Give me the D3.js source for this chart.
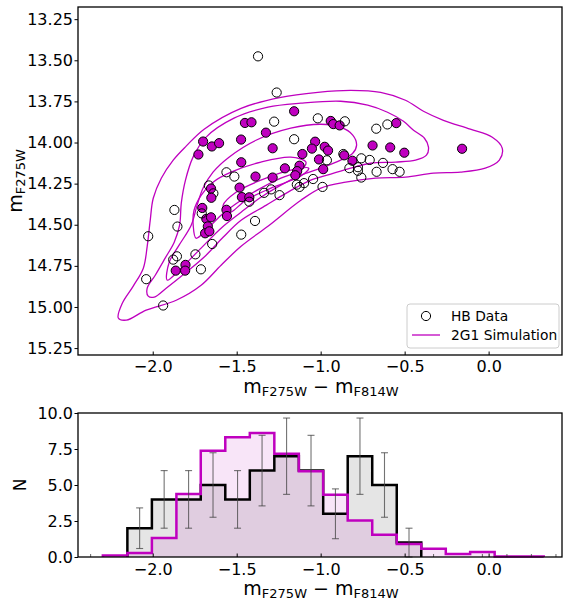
<!DOCTYPE html>
<html>
<head>
<meta charset="utf-8">
<script src="https://cdn.jsdelivr.net/npm/d3@7"></script>
<style>
  body { margin: 0; background: #fff; }
  text { font-family: "DejaVu Sans", sans-serif; fill: #000; }
</style>
</head>
<body>
<svg id="fig" width="566" height="603"></svg>
<script>
// ---- Horizontal-branch photometry: colour, magnitude, matched flag ----
const hbColor = [-1.373,-1.262,-1.158,-1.277,-1.451,-1.412,-1.017,-0.940,-0.925,-0.887,-0.856,-1.326,-1.158,-1.700,-1.648,-1.605,-1.728,-1.474,-1.286,-1.033,-1.052,-0.976,-0.956,-1.109,-1.010,-0.963,-0.865,-0.860,-0.811,-0.758,-0.708,-0.691,-0.586,-0.502,-0.158,-0.550,-0.603,-0.669,-0.629,-0.829,-0.778,-0.778,-0.758,-0.667,-0.572,-0.530,-1.045,-0.989,-1.473,-0.985,-1.126,-1.140,-1.151,-1.213,-1.561,-1.514,-1.388,-1.286,-1.666,-1.653,-1.483,-1.639,-1.651,-1.469,-1.425,-1.425,-1.337,-1.295,-1.245,-1.142,-1.099,-1.126,-1.705,-1.561,-1.558,-1.681,-1.653,-1.708,-1.672,-1.688,-1.663,-1.391,-1.871,-1.853,-2.027,-1.646,-1.473,-1.746,-1.878,-1.856,-1.805,-1.863,-1.807,-1.713,-2.039,-1.938];
const hbMag = [13.476,13.696,13.810,13.873,13.881,13.877,13.853,13.869,13.888,13.896,13.871,13.940,13.980,13.994,14.024,14.004,14.073,13.982,14.035,13.995,14.037,14.026,14.049,14.070,14.103,14.108,14.070,14.078,14.111,14.096,14.106,14.018,14.030,14.062,14.038,13.882,13.890,13.916,14.124,14.156,14.150,14.172,14.213,14.178,14.162,14.178,14.222,14.270,14.120,14.162,14.141,14.174,14.199,14.157,14.181,14.207,14.207,14.213,14.261,14.280,14.274,14.309,14.336,14.332,14.333,14.360,14.306,14.285,14.320,14.256,14.247,14.270,14.398,14.409,14.447,14.464,14.455,14.431,14.510,14.552,14.540,14.477,14.410,14.511,14.570,14.617,14.560,14.680,14.712,14.692,14.744,14.779,14.779,14.771,14.831,14.991];
const hbMatched = [0,0,1,0,1,1,0,1,1,1,0,1,0,1,1,1,1,1,1,1,1,1,1,1,1,0,0,1,1,0,0,1,1,1,1,1,0,0,0,0,0,0,0,0,0,0,0,0,1,1,1,1,1,1,0,0,1,1,0,1,1,0,1,1,1,0,0,0,0,0,0,0,1,1,1,1,1,0,1,1,1,0,0,0,0,0,0,0,0,0,1,1,1,0,0,0];

// ---- 2G1 simulation density contours (colour, magnitude) ----
const simContour1 = [[-2.205,15.067],[-2.181,14.977],[-2.116,14.873],[-2.056,14.764],[-2.033,14.631],[-2.015,14.473],[-1.997,14.339],[-1.949,14.217],[-1.878,14.107],[-1.801,14.022],[-1.694,13.919],[-1.474,13.792],[-1.237,13.725],[-1.017,13.695],[-0.821,13.683],[-0.643,13.695],[-0.495,13.743],[-0.388,13.810],[-0.269,13.865],[-0.109,13.919],[0.022,13.968],[0.081,14.034],[0.064,14.107],[-0.020,14.156],[-0.168,14.180],[-0.328,14.186],[-0.495,14.210],[-0.673,14.217],[-0.851,14.241],[-0.999,14.277],[-1.118,14.351],[-1.314,14.509],[-1.474,14.631],[-1.593,14.746],[-1.712,14.868],[-1.860,14.959],[-2.039,15.019],[-2.157,15.080]];
const simContour2 = [[-2.027,14.934],[-2.033,14.886],[-1.985,14.807],[-1.926,14.703],[-1.872,14.606],[-1.840,14.503],[-1.830,14.369],[-1.805,14.229],[-1.760,14.089],[-1.682,13.967],[-1.516,13.852],[-1.314,13.785],[-1.118,13.761],[-0.881,13.749],[-0.720,13.773],[-0.602,13.816],[-0.507,13.871],[-0.447,13.925],[-0.382,13.974],[-0.358,14.028],[-0.370,14.077],[-0.435,14.107],[-0.554,14.119],[-0.702,14.126],[-0.821,14.156],[-0.940,14.192],[-1.059,14.229],[-1.207,14.309],[-1.326,14.382],[-1.474,14.473],[-1.581,14.576],[-1.682,14.685],[-1.801,14.789],[-1.920,14.886],[-1.991,14.940]];
const simContour3 = [[-1.914,14.837],[-1.902,14.728],[-1.843,14.624],[-1.771,14.503],[-1.736,14.382],[-1.700,14.277],[-1.641,14.180],[-1.546,14.089],[-1.385,13.986],[-1.178,13.913],[-0.999,13.889],[-0.881,13.907],[-0.809,13.955],[-0.786,14.016],[-0.809,14.065],[-0.881,14.107],[-0.999,14.156],[-1.118,14.198],[-1.237,14.259],[-1.356,14.333],[-1.474,14.424],[-1.593,14.521],[-1.712,14.642],[-1.831,14.764]];
const simContour4 = [[-1.742,14.582],[-1.759,14.503],[-1.754,14.412],[-1.712,14.321],[-1.641,14.241],[-1.534,14.180],[-1.356,14.119],[-1.178,14.089],[-1.088,14.119],[-1.118,14.168],[-1.237,14.217],[-1.356,14.277],[-1.474,14.351],[-1.593,14.442],[-1.682,14.533]];
const simContour5 = [[-1.564,14.430],[-1.581,14.382],[-1.504,14.302],[-1.356,14.229],[-1.178,14.168],[-1.071,14.156],[-1.118,14.204],[-1.296,14.277],[-1.445,14.351],[-1.534,14.424]];
const simContours = [simContour1, simContour2, simContour3, simContour4, simContour5];

// ---- Colour histograms ----
const binEdges = [-2.297,-2.151,-2.005,-1.859,-1.714,-1.568,-1.422,-1.276,-1.130,-0.985,-0.839,-0.693,-0.547,-0.401,-0.255,-0.110,0.036,0.182,0.328];
const dataCounts = [2,4,4,5,4,6,7,6,3,7,5,1];           // bins 1..12
const dataErrors = [1.41,2.00,2.00,2.24,2.00,2.45,2.65,2.45,1.73,2.65,2.24,1.00];
const emptyBinCentres = [-2.370,-0.328,-0.037,0.109,0.255,0.401]; // empty data bins with zero-length error bars
const simCounts = [0.10,0.28,1.32,4.37,7.38,8.31,8.61,7.17,5.95,4.33,2.54,1.55,0.90,0.58,0.21,0.35,0.04,0.04]; // bins 0..17

const colorTicks = [-2.0,-1.5,-1.0,-0.5,0.0];
const magTicks = [13.25,13.50,13.75,14.00,14.25,14.50,14.75,15.00,15.25];
const countTicks = [0,2.5,5,7.5,10];

const MAGENTA = "#bf00bf";
const svg = d3.select("#fig");

const L = 78, R = 562;
const topPanel = {t: 7, b: 355};
const botPanel = {t: 413, b: 557};

const x = d3.scaleLinear().domain([-2.445, 0.437]).range([L, R]);
const yMag = d3.scaleLinear().domain([13.176, 15.292]).range([topPanel.t, topPanel.b]);
const yN = d3.scaleLinear().domain([0, 10]).range([botPanel.b, botPanel.t]);

function subLabel(g, main, sub, main2, sub2) {
  const t = g.append("text");
  t.append("tspan").text(main).attr("font-size", 19);
  t.append("tspan").text(sub).attr("font-size", 13).attr("dy", 3);
  if (main2) {
    t.append("tspan").text(main2).attr("font-size", 19).attr("dy", -3);
    t.append("tspan").text(sub2).attr("font-size", 13).attr("dy", 3);
  }
  return t;
}

function styleAxis(g) {
  g.select(".domain").remove();
  g.selectAll(".tick line").attr("stroke", "#000").attr("stroke-width", 1);
  g.selectAll(".tick text").attr("font-size", 16).attr("font-family", "DejaVu Sans");
}

// ================= Top panel: colour-magnitude diagram =================
const cmdPanel = svg.append("g");
svg.append("clipPath").attr("id", "clipCmd")
  .append("rect").attr("x", L).attr("y", topPanel.t).attr("width", R - L).attr("height", topPanel.b - topPanel.t);

const cmd = cmdPanel.append("g").attr("clip-path", "url(#clipCmd)");
const contourLine = d3.line().x(d => x(d[0])).y(d => yMag(d[1])).curve(d3.curveCatmullRomClosed.alpha(0.5));
cmd.selectAll("path.contour").data(simContours).join("path")
  .attr("class", "contour")
  .attr("d", contourLine)
  .attr("fill", "none").attr("stroke", MAGENTA).attr("stroke-width", 1.3);

const hb = hbColor.map((c, i) => ({c, m: hbMag[i], k: hbMatched[i]}));
cmd.selectAll("circle.hb").data(hb).join("circle")
  .attr("class", "hb")
  .attr("cx", d => x(d.c)).attr("cy", d => yMag(d.m)).attr("r", 4.6)
  .attr("fill", d => d.k ? MAGENTA : "none")
  .attr("stroke", "#000").attr("stroke-width", 1);

// axes
const yAxTop = cmdPanel.append("g").attr("transform", `translate(${L},0)`)
  .call(d3.axisLeft(yMag).tickValues(magTicks).tickFormat(d3.format(".2f")).tickSize(3.5).tickPadding(1.5));
styleAxis(yAxTop);
const xAxTop = cmdPanel.append("g").attr("transform", `translate(0,${topPanel.b})`)
  .call(d3.axisBottom(x).tickValues(colorTicks).tickFormat(d3.format(".1f")).tickSize(-3.5));
styleAxis(xAxTop);
xAxTop.selectAll(".tick text").attr("dy", 0).attr("y", 17);

cmdPanel.append("rect").attr("x", L).attr("y", topPanel.t).attr("width", R - L).attr("height", topPanel.b - topPanel.t)
  .attr("fill", "none").attr("stroke", "#000").attr("stroke-width", 1.3);

subLabel(cmdPanel.append("g").attr("transform", `translate(321,393)`), "m", "F275W", " − m", "F814W").attr("text-anchor", "middle");
subLabel(cmdPanel.append("g").attr("transform", `translate(22,181) rotate(-90)`), "m", "F275W").attr("text-anchor", "middle");

// legend
const leg = cmdPanel.append("g");
leg.append("rect").attr("x", 407).attr("y", 304).attr("width", 152).attr("height", 44).attr("rx", 3)
  .attr("fill", "#fff").attr("fill-opacity", 0.8).attr("stroke", "#ccc").attr("stroke-width", 1);
leg.append("circle").attr("cx", 426).attr("cy", 316).attr("r", 4.6).attr("fill", "none").attr("stroke", "#000");
leg.append("text").attr("x", 451).attr("y", 321).attr("font-size", 13.8).text("HB Data");
leg.append("line").attr("x1", 412).attr("x2", 440).attr("y1", 335).attr("y2", 335).attr("stroke", MAGENTA).attr("stroke-width", 1.3);
leg.append("text").attr("x", 451).attr("y", 340).attr("font-size", 13.8).text("2G1 Simulation");

// ================= Bottom panel: colour histograms =================
const histPanel = svg.append("g");

function stepPoints(edges, counts) {
  const pts = [[edges[0], 0]];
  counts.forEach((n, i) => { pts.push([edges[i], n]); pts.push([edges[i + 1], n]); });
  pts.push([edges[counts.length], 0]);
  return pts;
}
const stepLine = d3.line().x(d => x(d[0])).y(d => yN(d[1]));

const dataEdges = binEdges.slice(1, 1 + dataCounts.length + 1);
const simEdges = binEdges.slice(0, simCounts.length + 1);
const dataStep = stepPoints(dataEdges, dataCounts);
const simStep = stepPoints(simEdges, simCounts);

histPanel.append("path").attr("d", stepLine(dataStep) + "Z").attr("fill", "#000").attr("fill-opacity", 0.1).attr("stroke", "none");
histPanel.append("path").attr("d", stepLine(simStep) + "Z").attr("fill", MAGENTA).attr("fill-opacity", 0.1).attr("stroke", "none");
histPanel.append("path").attr("d", stepLine(dataStep)).attr("fill", "none").attr("stroke", "#000").attr("stroke-width", 2.5);
histPanel.append("path").attr("d", stepLine(simStep)).attr("fill", "none").attr("stroke", MAGENTA).attr("stroke-width", 2.5);

// Poisson error bars at data bin centres
const errs = dataCounts.map((n, i) => ({c: (dataEdges[i] + dataEdges[i + 1]) / 2, n, e: dataErrors[i]}));
const eb = histPanel.append("g").attr("stroke", "#444").attr("stroke-opacity", 0.75).attr("stroke-width", 1.1);
errs.forEach(d => {
  eb.append("line").attr("x1", x(d.c)).attr("x2", x(d.c)).attr("y1", yN(d.n - d.e)).attr("y2", yN(d.n + d.e));
  [d.n - d.e, d.n + d.e].forEach(v =>
    eb.append("line").attr("x1", x(d.c) - 3.5).attr("x2", x(d.c) + 3.5).attr("y1", yN(v)).attr("y2", yN(v)));
});
emptyBinCentres.forEach(c =>
  eb.append("line").attr("x1", x(c)).attr("x2", x(c)).attr("y1", yN(0)).attr("y2", yN(0) - 3));

const yAxBot = histPanel.append("g").attr("transform", `translate(${L},0)`)
  .call(d3.axisLeft(yN).tickValues(countTicks).tickFormat(d3.format(".1f")).tickSize(3.5).tickPadding(1.5));
styleAxis(yAxBot);
const xAxBot = histPanel.append("g").attr("transform", `translate(0,${botPanel.b})`)
  .call(d3.axisBottom(x).tickValues(colorTicks).tickFormat(d3.format(".1f")).tickSize(-3.5));
styleAxis(xAxBot);
xAxBot.selectAll(".tick text").attr("dy", 0).attr("y", 18);

histPanel.append("rect").attr("x", L).attr("y", botPanel.t).attr("width", R - L).attr("height", botPanel.b - botPanel.t)
  .attr("fill", "none").attr("stroke", "#000").attr("stroke-width", 1.3);

subLabel(histPanel.append("g").attr("transform", `translate(321,595)`), "m", "F275W", " − m", "F814W").attr("text-anchor", "middle");
histPanel.append("text").attr("transform", `translate(26,485) rotate(-90)`).attr("text-anchor", "middle")
  .attr("font-size", 17).text("N");
</script>
</body>
</html>
